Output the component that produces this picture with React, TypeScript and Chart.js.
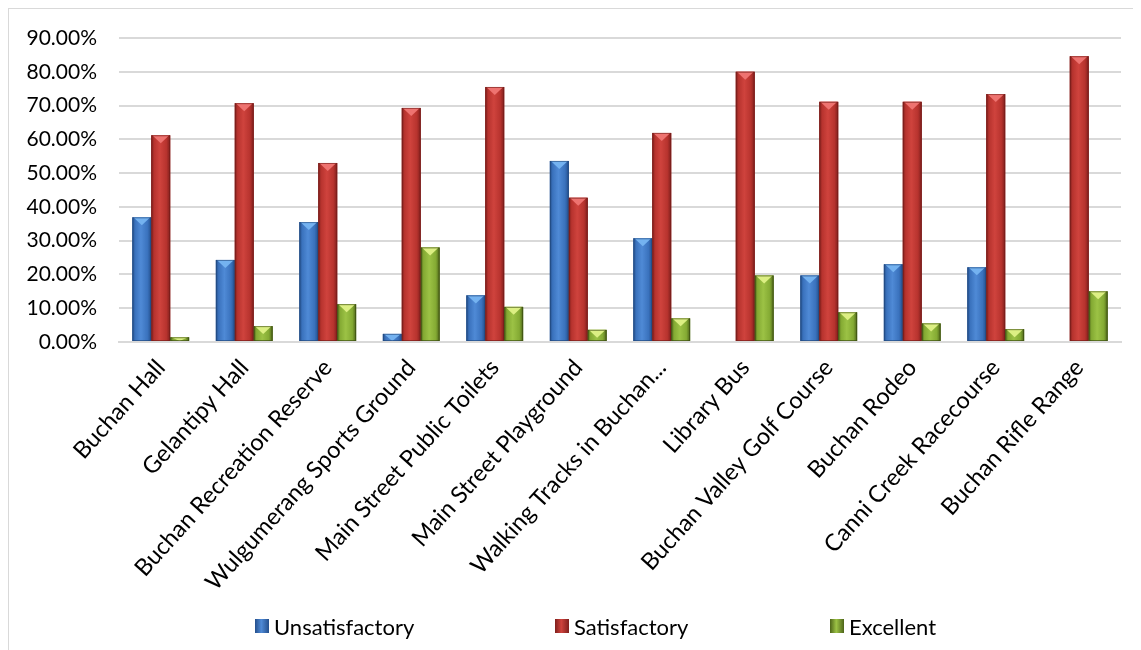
import React, { useEffect, useRef } from "react";
import { Chart, registerables } from "chart.js";

Chart.register(...registerables);

const categories = [
  "Buchan Hall",
  "Gelantipy Hall",
  "Buchan Recreation Reserve",
  "Wulgumerang Sports Ground",
  "Main Street Public Toilets",
  "Main Street Playground",
  "Walking Tracks in Buchan...",
  "Library Bus",
  "Buchan Valley Golf Course",
  "Buchan Rodeo",
  "Canni Creek Racecourse",
  "Buchan Rifle Range",
];

const seriesNames = ["Unsatisfactory", "Satisfactory", "Excellent"];

const unsatisfactory = [36.9, 24.3, 35.5, 2.4, 13.8, 53.6, 30.7, 0, 19.7, 23.0, 22.1, 0];
const satisfactory = [61.2, 70.7, 53.0, 69.3, 75.5, 42.7, 61.9, 80.0, 71.1, 71.1, 73.4, 84.6];
const excellent = [1.4, 4.7, 11.2, 28.0, 10.4, 3.6, 7.0, 19.7, 8.8, 5.5, 3.8, 15.0];

const yMin = 0;
const yMax = 90;
const yStep = 10;

const palettes = [
  { dark: "#244f8c", mid: "#3a72bd", light: "#4f8ad6", tri: "#74b2f0", edge: "#1f4477", legend: "#3a72bd" },
  { dark: "#7f1f1c", mid: "#b7332e", light: "#cf433d", tri: "#ee7370", edge: "#6f1a18", legend: "#b7332e" },
  { dark: "#4d6419", mid: "#84aa33", light: "#9cc245", tri: "#dcef83", edge: "#33430e", legend: "#84aa33" },
];

const bevelPlugin = {
  id: "bevel",
  afterDatasetsDraw(chart: any) {
    const ctx = chart.ctx;
    chart.data.datasets.forEach((_ds: any, di: number) => {
      const meta = chart.getDatasetMeta(di);
      const pal = palettes[di];
      meta.data.forEach((el: any) => {
        const { x, y, base, width } = el.getProps(["x", "y", "base", "width"], true);
        const h = base - y;
        if (h <= 0.5) return;
        const l = x - width / 2;
        const g = ctx.createLinearGradient(l, 0, l + width, 0);
        g.addColorStop(0, pal.dark);
        g.addColorStop(0.15, pal.mid);
        g.addColorStop(0.45, pal.light);
        g.addColorStop(0.8, pal.mid);
        g.addColorStop(1, pal.dark);
        ctx.save();
        ctx.fillStyle = g;
        ctx.fillRect(l, y, width, h);
        const th = Math.min(8, h);
        ctx.beginPath();
        ctx.moveTo(l + 1, y);
        ctx.lineTo(l + width - 1, y);
        ctx.lineTo(x, y + th);
        ctx.closePath();
        ctx.fillStyle = pal.tri;
        ctx.fill();
        ctx.strokeStyle = pal.edge;
        ctx.globalAlpha = 0.6;
        ctx.lineWidth = 1;
        ctx.strokeRect(l + 0.5, y + 0.5, width - 1, h - 1);
        ctx.restore();
      });
    });
  },
};

export default function App() {
  const canvasRef = useRef<HTMLCanvasElement | null>(null);

  useEffect(() => {
    if (!canvasRef.current) return;
    const seriesValues = [unsatisfactory, satisfactory, excellent];
    const chart = new Chart(canvasRef.current, {
      type: "bar",
      data: {
        labels: categories,
        datasets: seriesNames.map((name, i) => ({
          label: name,
          data: seriesValues[i],
          backgroundColor: palettes[i].mid,
          borderWidth: 0,
          categoryPercentage: 0.68,
          barPercentage: 1.0,
        })),
      },
      options: {
        animation: false,
        responsive: true,
        maintainAspectRatio: false,
        layout: { padding: { left: 17, top: 29, right: 20, bottom: 38 } },
        plugins: {
          legend: { display: false },
          tooltip: { enabled: false },
        },
        scales: {
          x: {
            grid: { display: false },
            border: { display: true, color: "#d9d9d9", width: 2 },
            ticks: {
              minRotation: 48,
              maxRotation: 48,
              autoSkip: false,
              padding: 4,
              color: "#000",
              font: { family: "Lato", size: 23.5 },
            },
            afterFit: (scale: any) => {
              scale.height = 270;
              scale.paddingLeft = 0;
              scale.paddingRight = 0;
            },
          },
          y: {
            min: yMin,
            max: yMax,
            ticks: {
              stepSize: yStep,
              padding: 22,
              color: "#000",
              font: { family: "Lato", size: 21 },
              callback: (v: any) => Number(v).toFixed(2) + "%",
            },
            grid: { color: "#d9d9d9", lineWidth: 2, drawTicks: false },
            border: { display: false },
            afterFit: (scale: any) => {
              scale.width = 93;
              scale.paddingTop = 0;
              scale.paddingBottom = 0;
            },
          },
        },
      },
      plugins: [bevelPlugin],
    });
    return () => chart.destroy();
  }, []);

  const legendLeft = [246, 546, 821];

  return (
    <div
      style={{
        position: "relative",
        width: 1133,
        height: 642,
        boxSizing: "border-box",
        borderLeft: "1px solid #d9d9d9",
        borderTop: "1px solid #d9d9d9",
        overflow: "hidden",
        background: "#fff",
      }}
    >
      <div style={{ position: "absolute", left: 0, top: 0, width: 1132, height: 641 }}>
        <canvas ref={canvasRef} />
      </div>
      {seriesNames.map((name, i) => (
        <div
          key={name}
          style={{
            position: "absolute",
            left: legendLeft[i],
            top: 605,
            height: 24,
            display: "flex",
            alignItems: "center",
            fontFamily: "Lato",
            fontSize: 22,
            color: "#000",
            whiteSpace: "nowrap",
          }}
        >
          <span
            style={{
              display: "inline-block",
              width: 14,
              height: 14,
              marginRight: 5,
              background: `linear-gradient(to right, ${palettes[i].dark}, ${palettes[i].light} 45%, ${palettes[i].dark})`,
            }}
          />
          {name}
        </div>
      ))}
    </div>
  );
}
